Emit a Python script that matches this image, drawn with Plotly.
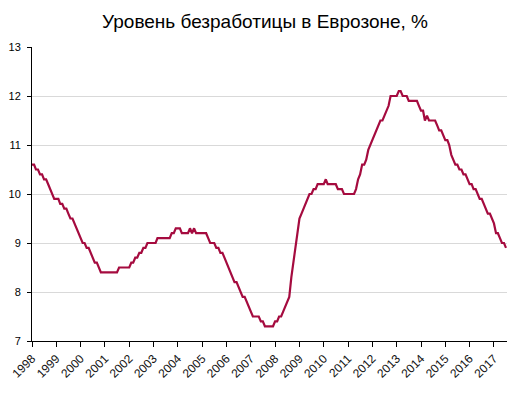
import pandas as pd
import plotly.graph_objects as go

TITLE = "Уровень безработицы в Еврозоне, %"
START_MONTH = "1998-01-01"

# Monthly unemployment rate, %, by year (Jan..Dec)
u1998 = [10.6, 10.6, 10.5, 10.5, 10.4, 10.4, 10.3, 10.3, 10.2, 10.1, 10.0, 9.9]
u1999 = [9.9, 9.9, 9.8, 9.8, 9.7, 9.7, 9.6, 9.5, 9.5, 9.4, 9.3, 9.2]
u2000 = [9.1, 9.0, 9.0, 8.9, 8.9, 8.8, 8.7, 8.6, 8.6, 8.5, 8.4, 8.4]
u2001 = [8.4, 8.4, 8.4, 8.4, 8.4, 8.4, 8.4, 8.5, 8.5, 8.5, 8.5, 8.5]
u2002 = [8.5, 8.6, 8.6, 8.7, 8.7, 8.8, 8.8, 8.9, 8.9, 9.0, 9.0, 9.0]
u2003 = [9.0, 9.0, 9.1, 9.1, 9.1, 9.1, 9.1, 9.1, 9.1, 9.2, 9.2, 9.3]
u2004 = [9.3, 9.3, 9.2, 9.2, 9.2, 9.2, 9.3, 9.2, 9.3, 9.2, 9.2, 9.2]
u2005 = [9.2, 9.2, 9.2, 9.1, 9.0, 9.0, 9.0, 8.9, 8.9, 8.8, 8.8, 8.7]
u2006 = [8.6, 8.5, 8.4, 8.3, 8.2, 8.2, 8.1, 8.0, 7.9, 7.9, 7.8, 7.7]
u2007 = [7.6, 7.5, 7.5, 7.5, 7.5, 7.4, 7.4, 7.3, 7.3, 7.3, 7.3, 7.3]
u2008 = [7.4, 7.4, 7.5, 7.5, 7.6, 7.7, 7.8, 7.9, 8.3, 8.6, 9.0, 9.3]
u2009 = [9.5, 9.6, 9.7, 9.8, 9.9, 10.0, 10.0, 10.1, 10.1, 10.2, 10.2, 10.2]
u2010 = [10.2, 10.3, 10.2, 10.2, 10.2, 10.2, 10.2, 10.1, 10.1, 10.1, 10.0, 10.0]
u2011 = [10.0, 10.0, 10.0, 10.0, 10.1, 10.3, 10.4, 10.6, 10.6, 10.7, 10.9, 11.0]
u2012 = [11.1, 11.2, 11.3, 11.4, 11.5, 11.5, 11.6, 11.7, 11.8, 12.0, 12.0, 12.0]
u2013 = [12.0, 12.1, 12.1, 12.0, 12.0, 12.0, 11.9, 11.9, 11.9, 11.9, 11.9, 11.8]
u2014 = [11.7, 11.7, 11.5, 11.6, 11.5, 11.5, 11.5, 11.5, 11.4, 11.3, 11.3, 11.2]
u2015 = [11.1, 11.1, 11.0, 10.8, 10.7, 10.6, 10.6, 10.5, 10.5, 10.4, 10.4, 10.3]
u2016 = [10.2, 10.2, 10.1, 10.1, 10.0, 9.9, 9.9, 9.8, 9.7, 9.6, 9.6, 9.5]
u2017 = [9.4, 9.2, 9.2, 9.1, 9.0, 9.0, 8.9]

years = list(range(1998, 2018))
tick_labels = [str(y) for y in years]
y_ticks = [7, 8, 9, 10, 11, 12, 13]

values = (u1998 + u1999 + u2000 + u2001 + u2002 + u2003 + u2004 + u2005 + u2006
          + u2007 + u2008 + u2009 + u2010 + u2011 + u2012 + u2013 + u2014
          + u2015 + u2016 + u2017)
dates = pd.date_range(START_MONTH, periods=len(values), freq="MS")

fig = go.Figure()
fig.add_trace(go.Scatter(
    x=dates, y=values, mode="lines",
    line=dict(color="#A50B3F", width=2.2),
    hoverinfo="skip", showlegend=False,
))

fig.update_layout(
    width=530, height=396,
    margin=dict(l=32, r=23, t=47, b=55, autoexpand=False),
    paper_bgcolor="white", plot_bgcolor="white",
    font=dict(family="Liberation Sans, Arial, sans-serif", size=11, color="#000000"),
    title=dict(text=TITLE, x=0.5, xanchor="center", y=0.945, yanchor="middle",
               font=dict(family="Liberation Sans, Arial, sans-serif", size=19, color="#000000")),
)

fig.update_xaxes(
    type="date",
    range=["1998-01-01", "2017-07-16"],
    tickvals=[f"{y}-01-01" for y in years],
    ticktext=tick_labels,
    tickangle=-45,
    automargin=False,
    ticks="outside", ticklen=5, tickcolor="#000000", tickwidth=1,
    showline=True, linecolor="#000000", linewidth=1,
    showgrid=False, zeroline=False,
    tickfont=dict(size=12, color="#111111"),
)
fig.update_yaxes(
    range=[7, 13],
    tickvals=y_ticks,
    automargin=False,
    ticks="outside", ticklen=4, tickcolor="#000000", tickwidth=1,
    showline=True, linecolor="#000000", linewidth=1,
    showgrid=True, gridcolor="#D9D9D9", gridwidth=1,
    zeroline=False,
    ticklabelstandoff=4,
    tickfont=dict(size=11, color="#000000"),
)

fig.write_html(
    "out.html",
    config={"displayModeBar": False},
    post_script="document.body.style.margin='0';document.body.style.overflow='hidden';",
)
